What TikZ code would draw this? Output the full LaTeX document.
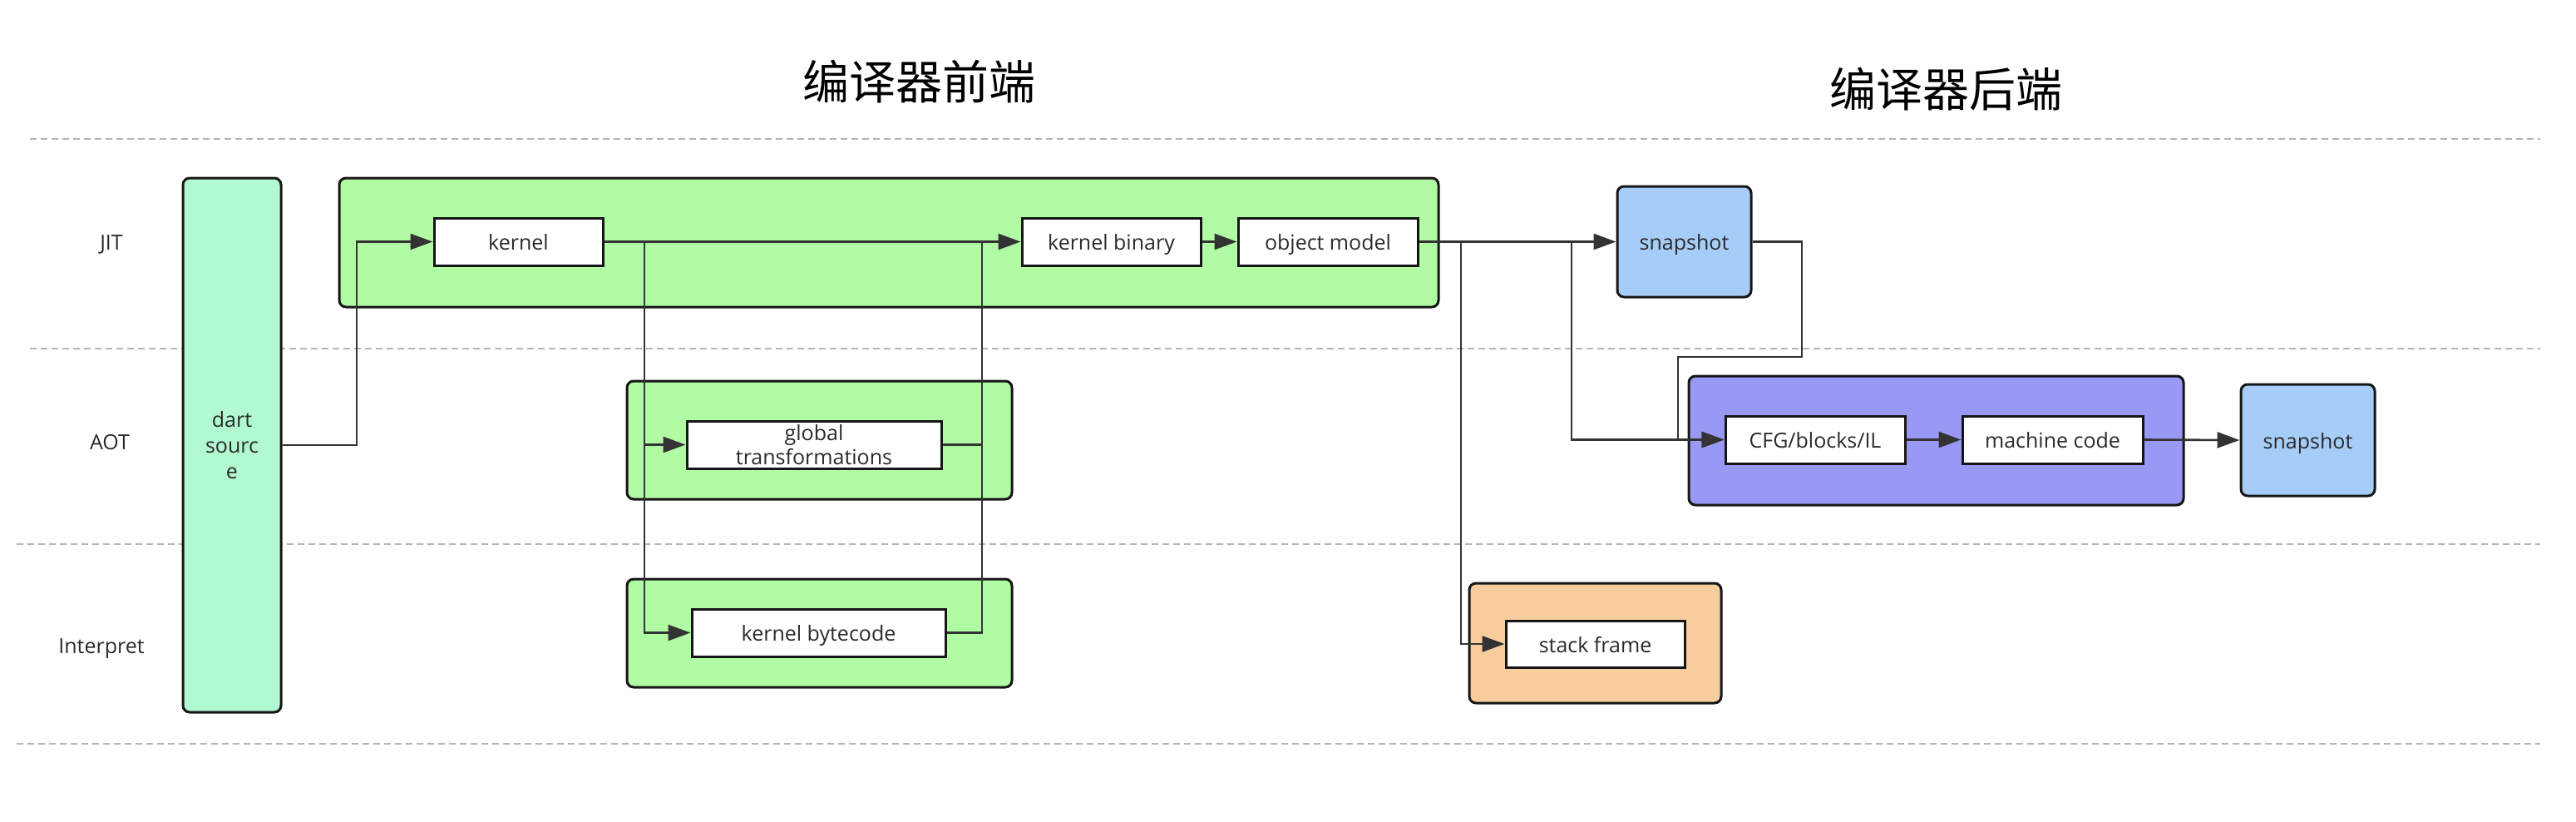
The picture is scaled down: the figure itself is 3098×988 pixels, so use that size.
\documentclass[tikz,border=0pt]{standalone}
\usepackage{fontspec}
\setmainfont{Open Sans}
\newfontfamily\cjk{Noto Sans CJK SC}
\usetikzlibrary{arrows.meta}
\definecolor{mint}{HTML}{B1FAD1}
\definecolor{lgreen}{HTML}{B2FBA5}
\definecolor{lblue}{HTML}{A6CCF8}
\definecolor{lpurple}{HTML}{9999F5}
\definecolor{lorange}{HTML}{F7CD9E}
\definecolor{conn}{HTML}{333333}
\definecolor{bord}{HTML}{161616}
\definecolor{dashg}{HTML}{B4B4B4}
\definecolor{txt}{HTML}{2A2A2A}
\begin{document}
\begin{tikzpicture}[x=1pt,y=-1pt,
  every node/.style={font=\fontsize{25}{31}\selectfont, text=txt},
  sline/.style={text height=20pt, text depth=0pt},
  container/.style={draw=bord, line width=3pt, rounded corners=8pt, inner sep=0pt},
  inbox/.style={draw=bord, line width=3pt, fill=white, inner sep=0pt, minimum height=57pt, align=center},
  lane/.style={draw=dashg, line width=2.2pt, dash pattern=on 8pt off 5pt},
  wire/.style={draw=conn, line width=2.6pt},
  arr/.style={wire, -{Triangle[length=27pt,width=19pt]}},
  lanelabel/.style={font=\fontsize{25}{31}\selectfont, sline},
  title/.style={font=\cjk\fontsize{56}{60}\selectfont, text=black}
]
\useasboundingbox (0,0) rectangle (3098,988);
% lane separators
\coordinate (l1a) at (36,167);  \coordinate (l1b) at (3055,167);
\coordinate (l2a) at (36,419);  \coordinate (l2b) at (3055,419);
\coordinate (l3a) at (20,654);  \coordinate (l3b) at (3055,654);
\coordinate (l4a) at (20,894);  \coordinate (l4b) at (3055,894);
\draw[lane] (l1a) -- (l1b);
\draw[lane] (l2a) -- (l2b);
\draw[lane] (l3a) -- (l3b);
\draw[lane] (l4a) -- (l4b);
% titles
\node[title] (tfront) at (1105,98) {编译器前端};
\node[title] (tback) at (2340,107) {编译器后端};
% lane labels
\node[lanelabel] (ljit) at (134,290) {JIT};
\node[lanelabel] (laot) at (132,530) {AOT};
\node[lanelabel] (lint) at (122,775) {Interpret};
% containers
\node[container, fill=mint, minimum width=118pt, minimum height=642pt, align=center] (dart) at (279,535) {dart\\sourc\\e};
\node[container, fill=lgreen, minimum width=1322pt, minimum height=155pt] (jit) at (1069,291.5) {};
\node[container, fill=lgreen, minimum width=463pt, minimum height=142pt] (aot) at (985.5,529) {};
\node[container, fill=lgreen, minimum width=463pt, minimum height=130pt] (interp) at (985.5,761) {};
\node[container, fill=lblue, minimum width=161pt, minimum height=133pt, sline] (snap1) at (2025.5,290.5) {snapshot};
\node[container, fill=lpurple, minimum width=595pt, minimum height=155pt] (back) at (2328.5,529.5) {};
\node[container, fill=lblue, minimum width=161pt, minimum height=134pt, sline] (snap2) at (2775.5,529) {snapshot};
\node[container, fill=lorange, minimum width=303pt, minimum height=144pt] (frameb) at (1918.5,773) {};
% inner boxes
\node[inbox, sline, minimum width=203pt] (kernel) at (623.5,290.5) {kernel};
\node[inbox, sline, minimum width=215pt] (kbin) at (1336.5,290.5) {kernel binary};
\node[inbox, sline, minimum width=216pt] (objm) at (1597,290.5) {object model};
\node[inbox, minimum width=306pt, font=\fontsize{25}{30}\selectfont] (gt) at (979,534.5) {global\\[-1pt]transformations};
\node[inbox, sline, minimum width=305pt] (kbc) at (984.5,760.5) {kernel bytecode};
\node[inbox, sline, minimum width=216pt] (cfg) at (2183,528.5) {CFG/blocks/IL};
\node[inbox, sline, minimum width=217pt] (mc) at (2468.5,528.5) {machine code};
\node[inbox, sline, minimum width=215pt, minimum height=56pt] (sf) at (1918.5,774) {stack frame};
% junction columns
\coordinate (jd) at (429,0);
\coordinate (xl) at (775,0);
\coordinate (xr) at (1181,0);
\coordinate (xs) at (1757,0);
\coordinate (xc) at (1890,0);
\coordinate (b1) at (2167,429);
\coordinate (b2) at (2018,429);
% connectors
\draw[arr] (dart.east) -| (jd |- kernel.west) -- (kernel.west);
\draw[arr] (kernel.east) -- (kbin.west);
\draw[arr] (xl |- kernel.east) |- (gt.west);
\draw[arr] (xl |- kernel.east) |- (kbc.west);
\draw[wire] (gt.east) -| (xr |- kbin.west);
\draw[wire] (kbc.east) -| (xr |- kbin.west);
\draw[arr] (kbin.east) -- (objm.west);
\draw[arr] (objm.east) -- (snap1.west);
\draw[arr] (xs |- objm.east) |- (sf.west);
\draw[arr] (xc |- objm.east) |- (cfg.west);
\draw[arr] (snap1.east) -| (b1) -- (b2) |- (cfg.west);
\draw[arr] (cfg.east) -- (mc.west);
\draw[arr] (mc.east) -- (snap2.west);
\end{tikzpicture}
\end{document}
